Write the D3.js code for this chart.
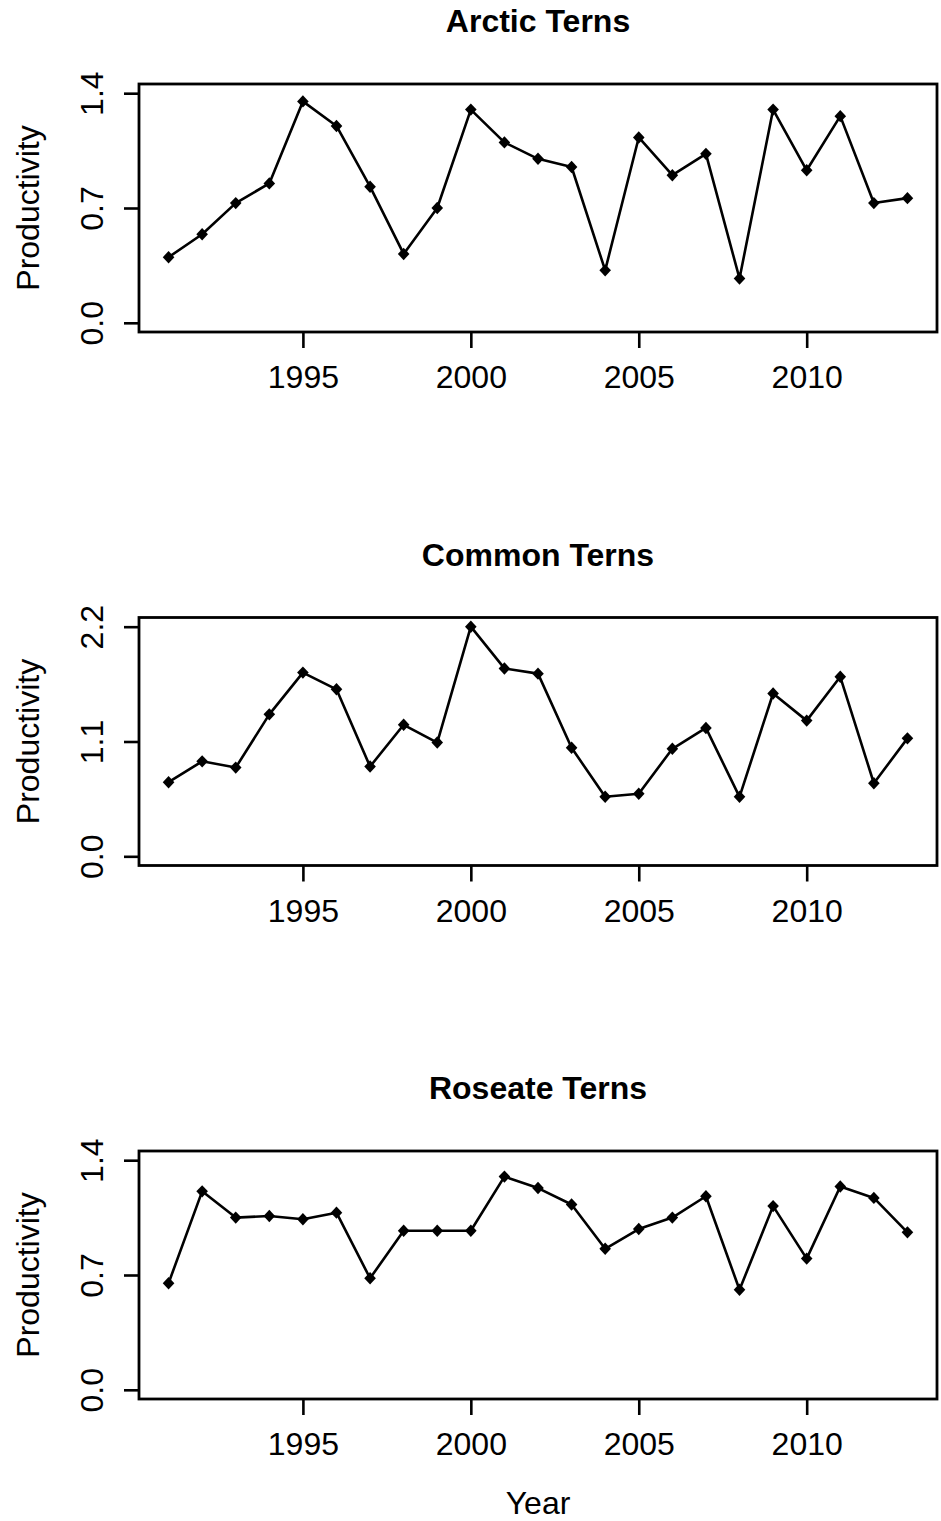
<!DOCTYPE html>
<html>
<head>
<meta charset="utf-8">
<script src="https://cdn.jsdelivr.net/npm/d3@7"></script>
<style>
    body { margin: 0; background: #fff; }
    svg { display: block; font-family: "Liberation Sans", Arial, Helvetica, sans-serif; }
    .box { fill: none; stroke: #000; stroke-width: 2.8; }
    .series { fill: none; stroke: #000; stroke-width: 2.6; stroke-linejoin: round; }
    .tick line { stroke: #000; stroke-width: 2.6; }
    .tick text { font-size: 32px; fill: #000; }
    .title { font-size: 32px; font-weight: bold; }
    .lab { font-size: 32px; }
</style>
</head>
<body>
<script>
//productivity per year
var years = [1991, 1992, 1993, 1994, 1995, 1996, 1997, 1998, 1999, 2000, 2001, 2002,
             2003, 2004, 2005, 2006, 2007, 2008, 2009, 2010, 2011, 2012, 2013];

var arcticValues = [0.40, 0.54, 0.73, 0.85, 1.35, 1.20, 0.83, 0.42, 0.70, 1.30, 1.10, 1.00,
                    0.95, 0.32, 1.13, 0.90, 1.03, 0.27, 1.30, 0.93, 1.26, 0.73, 0.76];

var commonValues = [0.71, 0.91, 0.85, 1.36, 1.76, 1.60, 0.86, 1.26, 1.09, 2.20, 1.80, 1.75,
                    1.04, 0.57, 0.60, 1.03, 1.23, 0.57, 1.56, 1.30, 1.72, 0.70, 1.13];

var roseateValues = [0.65, 1.21, 1.05, 1.06, 1.04, 1.08, 0.68, 0.97, 0.97, 0.97, 1.30, 1.23,
                     1.13, 0.86, 0.98, 1.05, 1.18, 0.61, 1.12, 0.80, 1.24, 1.17, 0.96];

var panelTitles = ["Arctic Terns", "Common Terns", "Roseate Terns"];
var yTickValues = [[0, 0.7, 1.4], [0, 1.1, 2.2], [0, 0.7, 1.4]];
var xTickValues = [1995, 2000, 2005, 2010];

var width = 941,
    height = 1521;

var svg = d3.select("body")
    .append("svg")
    .attr("width", width)
    .attr("height", height);

//plot box positions (R style mfrow layout)
var left = 139,
    right = 937,
    boxHeight = 248,
    panelTops = [84, 617.5, 1151];

var allValues = [arcticValues, commonValues, roseateValues];

//x scale with R's 4% padding on both sides
var xPad = (years[years.length - 1] - years[0]) * 0.04;
var x = d3.scaleLinear()
    .domain([years[0] - xPad, years[years.length - 1] + xPad])
    .range([left, right]);

//diamond marker (pch 18)
var diamond = function(d){ return "M0,-6.2L5.8,0L0,6.2L-5.8,0Z"; };

panelTitles.forEach(function(title, i){
    var top = panelTops[i],
        bottom = top + boxHeight,
        ticks = yTickValues[i],
        ymax = ticks[ticks.length - 1],
        yPad = ymax * 0.04;

    var y = d3.scaleLinear()
        .domain([-yPad, ymax + yPad])
        .range([bottom, top]);

    var g = svg.append("g").attr("class", "panel");

    //title
    g.append("text")
        .attr("class", "title")
        .attr("x", (left + right) / 2)
        .attr("y", top - 51.7)
        .attr("text-anchor", "middle")
        .text(title);

    //y axis, labels turned like R's las = 0
    var yAxis = g.append("g")
        .attr("transform", "translate(" + left + ",0)")
        .call(d3.axisLeft(y).tickValues(ticks).tickSize(15).tickFormat(d3.format(".1f")));
    yAxis.select(".domain").remove();
    yAxis.selectAll(".tick text")
        .attr("x", null)
        .attr("dy", null)
        .attr("text-anchor", "middle")
        .attr("transform", "translate(-35.7,0) rotate(-90)");

    //x axis
    var xAxis = g.append("g")
        .attr("transform", "translate(0," + bottom + ")")
        .call(d3.axisBottom(x).tickValues(xTickValues).tickSize(16).tickFormat(d3.format("d")));
    xAxis.select(".domain").remove();
    xAxis.selectAll(".tick text")
        .attr("y", 56)
        .attr("dy", null);

    //y label
    g.append("text")
        .attr("class", "lab")
        .attr("text-anchor", "middle")
        .attr("transform", "translate(38.5," + ((top + bottom) / 2) + ") rotate(-90)")
        .text("Productivity");

    //series line
    var line = d3.line()
        .x(function(d, j){ return x(years[j]); })
        .y(function(d){ return y(d); });

    g.append("path")
        .datum(allValues[i])
        .attr("class", "series")
        .attr("d", line);

    //points
    g.selectAll(".pt")
        .data(allValues[i])
        .enter()
        .append("path")
        .attr("class", "pt")
        .attr("d", diamond)
        .attr("transform", function(d, j){ return "translate(" + x(years[j]) + "," + y(d) + ")"; })
        .attr("fill", "#000");

    //plot frame
    g.append("rect")
        .attr("class", "box")
        .attr("x", left)
        .attr("y", top)
        .attr("width", right - left)
        .attr("height", boxHeight);

    //x label only under the last panel
    if (i === panelTitles.length - 1) {
        g.append("text")
            .attr("class", "lab")
            .attr("x", (left + right) / 2)
            .attr("y", bottom + 115)
            .attr("text-anchor", "middle")
            .text("Year");
    }
});
</script>
</body>
</html>
